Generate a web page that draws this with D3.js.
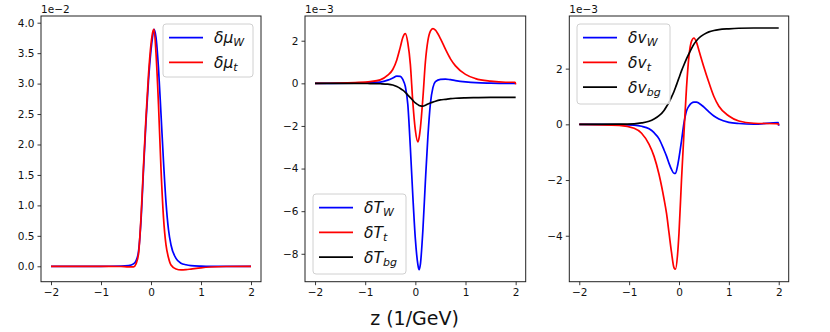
<!DOCTYPE html>
<html>
<head>
<meta charset="utf-8">
<script src="https://d3js.org/d3.v7.min.js"></script>
<style>
  body { margin: 0; background: #fff; }
  text { font-family: "DejaVu Sans", sans-serif; }
</style>
</head>
<body>
<div id="chart"></div>
<script>
// ---- data ----
var zMu = [-2, -1, -0.6, -0.45, -0.35, -0.3, -0.25, -0.2, -0.15, -0.1, -0.05, 0, 0.03, 0.06, 0.1, 0.15, 0.2, 0.25, 0.3, 0.35, 0.4, 0.5, 0.6, 0.7, 0.8, 1.0, 1.2, 1.5, 2];
var muW = [0, 0, 0.002, 0.01, 0.04, 0.09, 0.24, 0.75, 1.58, 2.38, 3.05, 3.55, 3.76, 3.89, 3.76, 3.25, 2.5, 1.72, 1.05, 0.6, 0.35, 0.13, 0.05, 0.025, 0.012, 0.003, 0, 0, 0];
var muT = [0, 0, -0.003, -0.01, -0.01, 0.04, 0.2, 0.8, 1.65, 2.45, 3.15, 3.65, 3.83, 3.89, 3.5, 2.65, 1.6, 0.8, 0.35, 0.14, 0.02, -0.045, -0.06, -0.055, -0.045, -0.025, -0.012, -0.003, 0];

var zT = [-2, -1.2, -0.9, -0.7, -0.55, -0.45, -0.37, -0.3, -0.25, -0.2, -0.15, -0.1, -0.05, 0, 0.05, 0.075, 0.1, 0.15, 0.2, 0.25, 0.3, 0.35, 0.4, 0.5, 0.6, 0.7, 0.8, 1.0, 1.2, 1.5, 1.8, 1.99, 2];
var tW = [0, 0.01, 0.03, 0.06, 0.15, 0.25, 0.34, 0.33, 0.18, -0.15, -1.0, -3.0, -5.3, -7.3, -8.5, -8.75, -8.5, -6.9, -4.6, -2.5, -0.95, -0.2, 0.08, 0.19, 0.2, 0.17, 0.13, 0.07, 0.03, 0.01, 0, 0, 0];
var tT = [0, 0.04, 0.08, 0.16, 0.38, 0.65, 1.1, 1.7, 2.15, 2.33, 1.9, 0.9, -0.9, -2.2, -2.75, -2.55, -2.1, -0.7, 1.0, 2.0, 2.45, 2.57, 2.5, 2.1, 1.6, 1.15, 0.82, 0.42, 0.22, 0.1, 0.05, 0.05, -0.05];
var tBg = [0, 0, -0.01, -0.02, -0.04, -0.08, -0.15, -0.24, -0.32, -0.42, -0.55, -0.67, -0.8, -0.92, -1.0, -1.04, -1.06, -1.07, -1.03, -0.97, -0.92, -0.88, -0.84, -0.78, -0.75, -0.72, -0.7, -0.68, -0.67, -0.66, -0.66, -0.66, -0.66];

var zV = [-2, -1.2, -0.9, -0.75, -0.6, -0.5, -0.4, -0.3, -0.25, -0.2, -0.15, -0.1, -0.07, -0.03, 0, 0.05, 0.1, 0.15, 0.2, 0.25, 0.3, 0.35, 0.4, 0.5, 0.6, 0.7, 0.8, 1.0, 1.2, 1.5, 1.99, 2];
var vW = [0, -0.01, -0.03, -0.07, -0.16, -0.3, -0.52, -0.92, -1.14, -1.4, -1.62, -1.76, -1.76, -1.5, -1.2, -0.6, 0.05, 0.48, 0.66, 0.76, 0.8, 0.8, 0.76, 0.62, 0.45, 0.3, 0.19, 0.07, 0.03, 0.01, 0.06, -0.05];
var vT = [0, -0.04, -0.14, -0.32, -0.72, -1.15, -1.8, -2.68, -3.2, -3.9, -4.6, -5.15, -5.2, -4.7, -3.9, -2.0, -0.3, 1.3, 2.45, 2.98, 3.1, 2.95, 2.65, 2.05, 1.5, 1.0, 0.65, 0.3, 0.12, 0.04, 0.02, -0.03];
var vBg = [0, 0.005, 0.02, 0.05, 0.11, 0.19, 0.31, 0.5, 0.64, 0.8, 0.98, 1.18, 1.32, 1.52, 1.67, 1.92, 2.14, 2.35, 2.54, 2.72, 2.88, 3.0, 3.1, 3.23, 3.32, 3.37, 3.4, 3.43, 3.45, 3.46, 3.46, 3.46];

var xTicks = [-2, -1, 0, 1, 2];
var yTicksMu = [0, 0.5, 1, 1.5, 2, 2.5, 3, 3.5, 4];
var yTicksT = [-8, -6, -4, -2, 0, 2];
var yTicksV = [-4, -2, 0, 2];

function minusFmt(digits) {
  return function(d) {
    var s = Math.abs(d).toFixed(digits);
    return d < 0 ? "\u2212" + s : s;
  };
}

var panels = [
  { left: 41, right: 261, z: zMu, yDom: [-0.253, 4.11], yTicks: yTicksMu, fmt: minusFmt(1), offset: "1e\u22122",
    base: "\u03b4\u03bc", series: [{ v: muW, c: "blue", sub: "W" }, { v: muT, c: "red", sub: "t" }],
    legend: { x: 163, y: 24, w: 90, h: 53 } },
  { left: 305, right: 525.7, z: zT, yDom: [-9.31, 3.16], yTicks: yTicksT, fmt: minusFmt(0), offset: "1e\u22123",
    base: "\u03b4T", series: [{ v: tW, c: "blue", sub: "W" }, { v: tT, c: "red", sub: "t" }, { v: tBg, c: "black", sub: "bg" }],
    legend: { x: 313, y: 194, w: 93, h: 80 } },
  { left: 569.3, right: 788.7, z: zV, yDom: [-5.65, 3.89], yTicks: yTicksV, fmt: minusFmt(0), offset: "1e\u22123",
    base: "\u03b4v", series: [{ v: vW, c: "blue", sub: "W" }, { v: vT, c: "red", sub: "t" }, { v: vBg, c: "black", sub: "bg" }],
    legend: { x: 577, y: 24, w: 93, h: 80 } }
];

var width = 830, height = 332, plotTop = 16, plotBottom = 281.7;

var svg = d3.select("#chart").append("svg")
  .attr("width", width).attr("height", height);

panels.forEach(function(p) {
  var x = d3.scaleLinear().domain([-2.2, 2.2]).range([p.left, p.right]);
  var y = d3.scaleLinear().domain(p.yDom).range([plotBottom, plotTop]);
  var g = svg.append("g");

  var line = d3.line()
    .x(function(d) { return x(d[0]); })
    .y(function(d) { return y(d[1]); })
    .curve(d3.curveMonotoneX);

  p.series.forEach(function(s) {
    g.append("path")
      .datum(p.z.map(function(z, i) { return [z, s.v[i]]; }))
      .attr("d", line)
      .attr("fill", "none")
      .attr("stroke", s.c)
      .attr("stroke-width", 1.7);
  });

  var xAxis = g.append("g").attr("transform", "translate(0," + plotBottom + ")")
    .call(d3.axisBottom(x).tickValues(xTicks).tickSize(3.5).tickPadding(3)
      .tickFormat(minusFmt(0)));
  var yAxis = g.append("g").attr("transform", "translate(" + p.left + ",0)")
    .call(d3.axisLeft(y).tickValues(p.yTicks).tickSize(3.5).tickPadding(3)
      .tickFormat(p.fmt));
  [xAxis, yAxis].forEach(function(a) {
    a.select(".domain").remove();
    a.selectAll("line").attr("stroke", "#222").attr("stroke-width", 0.9);
    a.selectAll("text").attr("font-size", "10.5px").attr("fill", "#111")
      .style("font-family", "DejaVu Sans, sans-serif");
  });

  g.append("rect")
    .attr("x", p.left).attr("y", plotTop)
    .attr("width", p.right - p.left).attr("height", plotBottom - plotTop)
    .attr("fill", "none").attr("stroke", "#222").attr("stroke-width", 1);

  g.append("text")
    .attr("x", p.left).attr("y", 12.5)
    .attr("font-size", "10.5px").attr("fill", "#111")
    .text(p.offset);

  // legend
  var L = p.legend;
  var lg = g.append("g");
  lg.append("rect")
    .attr("x", L.x).attr("y", L.y).attr("width", L.w).attr("height", L.h)
    .attr("rx", 3).attr("fill", "white").attr("fill-opacity", 0.8)
    .attr("stroke", "#d0d0d0").attr("stroke-width", 1);
  p.series.forEach(function(s, i) {
    var cy = L.y + 13.7 + i * 24.7;
    lg.append("line")
      .attr("x1", L.x + 6).attr("x2", L.x + 40)
      .attr("y1", cy).attr("y2", cy)
      .attr("stroke", s.c).attr("stroke-width", 1.7);
    var t = lg.append("text")
      .attr("x", L.x + 51).attr("y", cy + 5.5)
      .attr("font-size", "15.5px").attr("font-style", "italic").attr("fill", "#111");
    t.append("tspan").text(p.base);
    t.append("tspan").attr("dy", 3).attr("font-size", "11px").text(s.sub);
  });
});

svg.append("text")
  .attr("x", 414.5).attr("y", 325)
  .attr("text-anchor", "middle")
  .attr("font-size", "19px").attr("fill", "#111")
  .text("z (1/GeV)");
</script>
</body>
</html>
